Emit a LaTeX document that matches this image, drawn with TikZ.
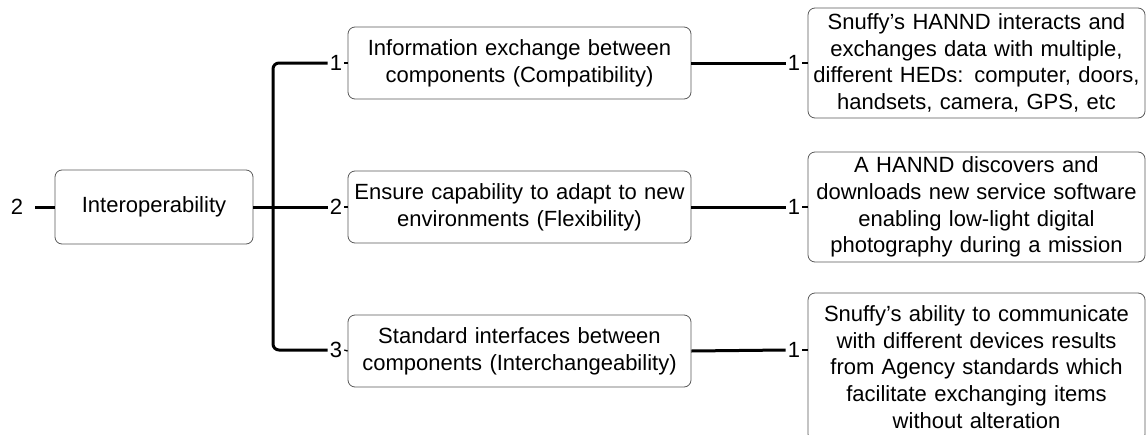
\documentclass[tikz,border=0pt]{standalone}
\usepackage{fontspec}
\setmainfont{Liberation Sans}
\usepackage{tikz}
\usepackage{color}

\begin{document}
\begin{tikzpicture}[x=1pt, y=-1pt,
	font=\fontsize{22pt}{26.7pt}\selectfont,
	box/.style = {shape=rectangle, rounded corners=7pt,
		draw=black!65, line width=0.8pt, align=center, inner sep=0pt},
	midbox/.style = {box, text width=334pt, minimum width=343pt, minimum height=72pt},
	sidebox/.style = {box, text width=330pt, minimum width=337pt, minimum height=110pt},
	num/.style = {inner sep=2pt},
	conn/.style = {line width=3pt},
	tick/.style = {line width=1.3pt}]
	\useasboundingbox (0,0) rectangle (1146,434);
	% root
	\node[num, inner xsep=12pt] (root) at (17,207) {2};
	\node[box, minimum width=198pt, minimum height=74pt] (inter) at (154,207) {Interoperability};
	% middle level
	\node[num] (n1) at (336,63) {1};
	\node[num] (n2) at (336,207) {2};
	\node[num] (n3) at (336,350) {3};
	\node[midbox] (compat) at (519.5,63) {Information exchange between\\components (Compatibility)};
	\node[midbox] (flex) at (519.5,207) {Ensure capability to adapt to new\\environments (Flexibility)};
	\node[midbox] (inter3) at (519.5,351) {Standard interfaces between\\components (Interchangeability)};
	% right level
	\node[num] (m1) at (794,63) {1};
	\node[num] (m2) at (794,207) {1};
	\node[num] (m3) at (794,350) {1};
	\node[sidebox] (hedex) at (976.5,63) {Snuffy's HANND interacts and\\exchanges data with multiple,\\different HEDs: computer, doors,\\handsets, camera, GPS, etc};
	\node[sidebox] (photo) at (976.5,207) {A HANND discovers and\\downloads new service software\\enabling low-light digital\\photography during a mission};
	\node[sidebox, minimum height=148pt] (agency) at (976.5,367) {Snuffy's ability to communicate\\with different devices results\\from Agency standards which\\facilitate exchanging items\\without alteration};
	\coordinate (fork) at (273,207);
	% connectors
	\draw[conn] (root.east) -- (inter.west);
	\draw[conn] (inter.east) -- (n2.west);
	\draw[conn, rounded corners=6pt] (n1.west) -| (fork) |- (n3.west);
	\draw[tick] (n1.east) -- (compat.west);
	\draw[tick] (n2.east) -- (flex.west);
	\draw[tick] (n3.east) -- (inter3.west);
	\draw[conn] (compat.east) -- (m1.west);
	\draw[conn] (flex.east) -- (m2.west);
	\draw[conn] (inter3.east) -- (m3.west);
	\draw[tick] (m1.east) -- (hedex.west |- m1);
	\draw[tick] (m2.east) -- (photo.west |- m2);
	\draw[tick] (m3.east) -- (agency.west |- m3);
\end{tikzpicture}
\end{document}
